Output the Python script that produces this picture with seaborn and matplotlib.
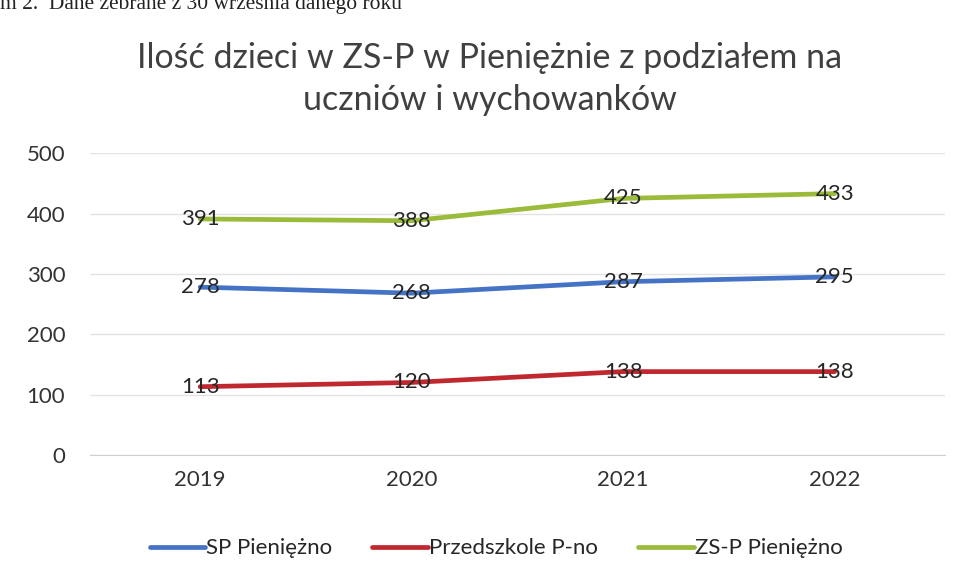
import matplotlib
matplotlib.use('Agg')
import matplotlib.pyplot as plt
import seaborn as sns
import pandas as pd

years = ['2019', '2020', '2021', '2022']
sp_pieniezno = [278, 268, 287, 295]
przedszkole = [113, 120, 138, 138]
zsp_pieniezno = [391, 388, 425, 433]

series_names = ['SP Pieniężno', 'Przedszkole P-no', 'ZS-P Pieniężno']
colors = ['#4472C4', '#C0282F', '#9BBB3B']

df = pd.DataFrame({
    'rok': years * 3,
    'liczba': sp_pieniezno + przedszkole + zsp_pieniezno,
    'seria': [s for s in series_names for _ in years],
})

sns.set_style('white')
plt.rcParams['font.family'] = ['Lato', 'DejaVu Sans']

fig = plt.figure(figsize=(9.6, 5.78), dpi=100)
ax = fig.add_axes([0.094, 0.213, 0.89, 0.522])

sns.lineplot(data=df, x='rok', y='liczba', hue='seria', palette=colors,
             linewidth=3.4, ax=ax, sort=False)

# etykiety danych na punktach
for vals in [sp_pieniezno, przedszkole, zsp_pieniezno]:
    for i, v in enumerate(vals):
        ax.text(i, v, str(v), ha='center', va='center', fontsize=16, color='#262626')

ax.set_ylim(0, 500)
ax.set_xlim(-0.52, 3.52)
ax.set_yticks([0, 100, 200, 300, 400, 500])
ax.yaxis.grid(True, color='#e3e3e3', linewidth=1)
ax.tick_params(axis='y', labelsize=16, colors='#333333', length=0, pad=18)
ax.tick_params(axis='x', labelsize=16, colors='#333333', length=0, pad=11)
ax.set_xlabel('')
ax.set_ylabel('')
for s in ['top', 'right', 'left']:
    ax.spines[s].set_visible(False)
ax.spines['bottom'].set_color('#d0d0d0')

ax.legend(loc='center', bbox_to_anchor=(0.475, -0.31), ncol=3, frameon=False,
          fontsize=16, handlelength=2.5, handletextpad=0.05, columnspacing=1.8)

fig.text(0.51, 0.863, 'Ilość dzieci w ZS-P w Pieniężnie z podziałem na\nuczniów i wychowanków',
         ha='center', va='center', fontsize=24.5, color='#404040', linespacing=1.4)

# obcięty podpis skanu u góry
fig.text(0.0, 0.985, 'm 2.  Dane zebrane z 30 września danego roku', ha='left', va='baseline',
         fontsize=15.5, family='Liberation Serif', color='#222222')

fig.savefig('out.png', dpi=100)
